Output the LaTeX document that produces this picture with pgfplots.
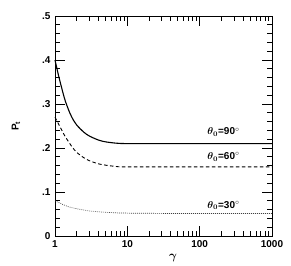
\documentclass[border=0pt]{standalone}
\usepackage{amsmath}
\usepackage{bm}
\usepackage{fontspec}
\setmainfont{Liberation Sans}
\usepackage{pgfplots}
\pgfplotsset{compat=1.18}
\begin{document}
\begin{tikzpicture}
\path (-55pt,-29pt) rectangle (236pt,236pt);
\begin{axis}[
  at={(0pt,0pt)}, anchor=south west,
  scale only axis, width=217pt, height=220pt,
  xmode=log, xmin=1, xmax=1000, ymin=0, ymax=0.5,
  xtick={1,10,100,1000}, xticklabels={1,10,100,1000},
  ytick={0,0.1,0.2,0.3,0.4,0.5}, yticklabels={0,.1,.2,.3,.4,.5},
  tick style={draw=black, line width=0.8pt},
  major tick length=10pt,
  axis line style={line width=0.9pt},
  tick label style={font=\fontsize{10}{12}\selectfont\bfseries},
  xticklabel style={yshift=-1pt},
  yticklabel style={xshift=-1pt},
  xlabel={$\bm{\gamma}$},
  xlabel style={at={(axis cs:43,0)}, anchor=north, yshift=-15pt, font=\large},
  ylabel={\fontsize{10}{12}\selectfont\bfseries P$_{\mathbf t}$},
  ylabel style={at={(axis description cs:-0.18,0.5)}, anchor=center},
  clip=false,
]
\pgfplotsinvokeforeach{0.1,0.2,0.3,0.4}{
  \draw[line width=0.8pt] (axis cs:1,#1) -- ++(10pt,0pt);
  \draw[line width=0.8pt] (axis cs:1000,#1) -- ++(-10pt,0pt);
}
\pgfplotsinvokeforeach{0.02,0.04,0.06,0.08,0.12,0.14,0.16,0.18,0.22,0.24,0.26,0.28,0.32,0.34,0.36,0.38,0.42,0.44,0.46,0.48}{
  \draw[line width=0.8pt] (axis cs:1,#1) -- ++(5pt,0pt);
  \draw[line width=0.8pt] (axis cs:1000,#1) -- ++(-5pt,0pt);
}
\pgfplotsinvokeforeach{10,100}{
  \draw[line width=0.8pt] (axis cs:#1,0) -- ++(0pt,10pt);
  \draw[line width=0.8pt] (axis cs:#1,0.5) -- ++(0pt,-10pt);
}
\pgfplotsinvokeforeach{2,3,4,5,6,7,8,9,20,30,40,50,60,70,80,90,200,300,400,500,600,700,800,900}{
  \draw[line width=0.8pt] (axis cs:#1,0) -- ++(0pt,5pt);
  \draw[line width=0.8pt] (axis cs:#1,0.5) -- ++(0pt,-5pt);
}
\addplot[black, line width=1.1pt, smooth] coordinates {
(1,0.40) (1.1,0.37) (1.2,0.345) (1.3,0.323) (1.4,0.305) (1.6,0.28) (1.8,0.263) (2,0.252) (2.5,0.236) (3,0.227) (4,0.218) (5,0.214) (7,0.211) (10,0.21) (30,0.21) (100,0.21) (1000,0.21)};
\addplot[black, line width=0.9pt, dash pattern=on 3.5pt off 2.5pt, smooth] coordinates {
(1,0.27) (1.1,0.257) (1.2,0.245) (1.35,0.229) (1.5,0.217) (1.75,0.201) (2,0.19) (2.5,0.178) (3,0.171) (4,0.164) (5,0.161) (7,0.158) (10,0.157) (100,0.157) (1000,0.157)};
\addplot[black!75, line width=0.7pt, dash pattern=on 0.8pt off 1.2pt, smooth] coordinates {
(1,0.08) (1.2,0.074) (1.5,0.067) (2,0.062) (3,0.057) (5,0.054) (10,0.052) (100,0.051) (1000,0.051)};
\node[anchor=east, font=\fontsize{10}{12}\selectfont\bfseries] at (axis cs:400,0.236) {$\bm{\theta_0}$=90$^{\circ}$};
\node[anchor=east, font=\fontsize{10}{12}\selectfont\bfseries] at (axis cs:400,0.180) {$\bm{\theta_0}$=60$^{\circ}$};
\node[anchor=east, font=\fontsize{10}{12}\selectfont\bfseries] at (axis cs:400,0.069) {$\bm{\theta_0}$=30$^{\circ}$};
\end{axis}
\end{tikzpicture}
\end{document}
